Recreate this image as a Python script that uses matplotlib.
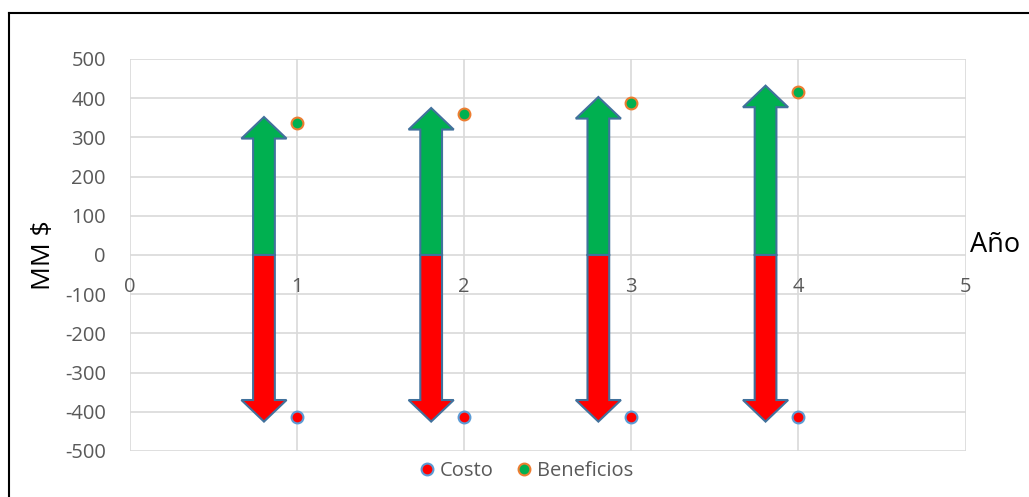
import matplotlib.pyplot as plt
from matplotlib.patches import FancyArrow
from matplotlib.lines import Line2D

# Datos
anos = [1, 2, 3, 4]
costo = [-413, -413, -413, -413]
beneficios = [336, 359, 387, 416]
x_ticks = [0, 1, 2, 3, 4, 5]
y_ticks = [-500, -400, -300, -200, -100, 0, 100, 200, 300, 400, 500]

plt.rcParams['font.family'] = ['Open Sans', 'DejaVu Sans']
plt.rcParams['axes.unicode_minus'] = False
gris = '#595959'
fs = 14.5

fig = plt.figure(figsize=(10.29, 4.97), dpi=100)
ax = fig.add_axes([0.1259, 0.0926, 0.8124, 0.7887])

# marco exterior (solo izquierda y arriba)
fig.add_artist(Line2D([9 / 1029, 9 / 1029], [0, 1 - 13 / 497], color='black', lw=1.5,
                      transform=fig.transFigure))
fig.add_artist(Line2D([9 / 1029, 1], [1 - 13 / 497, 1 - 13 / 497], color='black', lw=1.5,
                      transform=fig.transFigure))

ax.set_xlim(0, 5)
ax.set_ylim(-500, 500)
ax.set_xticks(x_ticks)
ax.set_yticks(y_ticks)
ax.grid(True, color='#D9D9D9', lw=1.2)
ax.set_axisbelow(True)
for s in ax.spines.values():
    s.set_visible(False)
ax.tick_params(length=0, labelsize=fs, labelcolor=gris, pad=17)
ax.set_xticklabels([])

# etiquetas del eje x junto a la linea del cero
for xt in x_ticks:
    ax.annotate(str(xt), (xt, 0), xytext=(0, -23), textcoords='offset points',
                ha='center', va='center', fontsize=fs, color=gris)

# flechas: beneficios hacia arriba, costos hacia abajo
ancho = 0.13
cabeza_w = 0.27
cabeza_l = 55
for a, c, b in zip(anos, costo, beneficios):
    xa = a - 0.196
    ax.add_patch(FancyArrow(xa, 0, 0, b + 16, width=ancho, head_width=cabeza_w,
                            head_length=cabeza_l, length_includes_head=True,
                            facecolor='#00B050', edgecolor='#41719C', lw=1.5, zorder=3))
    ax.add_patch(FancyArrow(xa, 0, 0, c - 12, width=ancho, head_width=cabeza_w,
                            head_length=cabeza_l, length_includes_head=True,
                            facecolor='#FF0000', edgecolor='#41719C', lw=1.5, zorder=3))

ax.plot(anos, costo, 'o', ms=8.5, mfc='#FF0000', mec='#5B9BD5', mew=1.5,
        label='Costo', zorder=4)
ax.plot(anos, beneficios, 'o', ms=8.5, mfc='#00B050', mec='#ED7D31', mew=1.5,
        label='Beneficios', zorder=4)

ax.set_ylabel('MM $', fontsize=19, color='black')
ax.yaxis.set_label_coords(-0.088, 0.5)
ax.text(1.005, 0.49, 'Año', transform=ax.transAxes, fontsize=19.5, color='black',
        ha='left', va='bottom')

ax.legend(loc='upper center', bbox_to_anchor=(0.472, -0.005), ncol=2, frameon=False,
          fontsize=fs, labelcolor=gris, handletextpad=0.05, columnspacing=0.9,
          borderaxespad=0, handlelength=1.2)

fig.savefig('out.png', dpi=100)
